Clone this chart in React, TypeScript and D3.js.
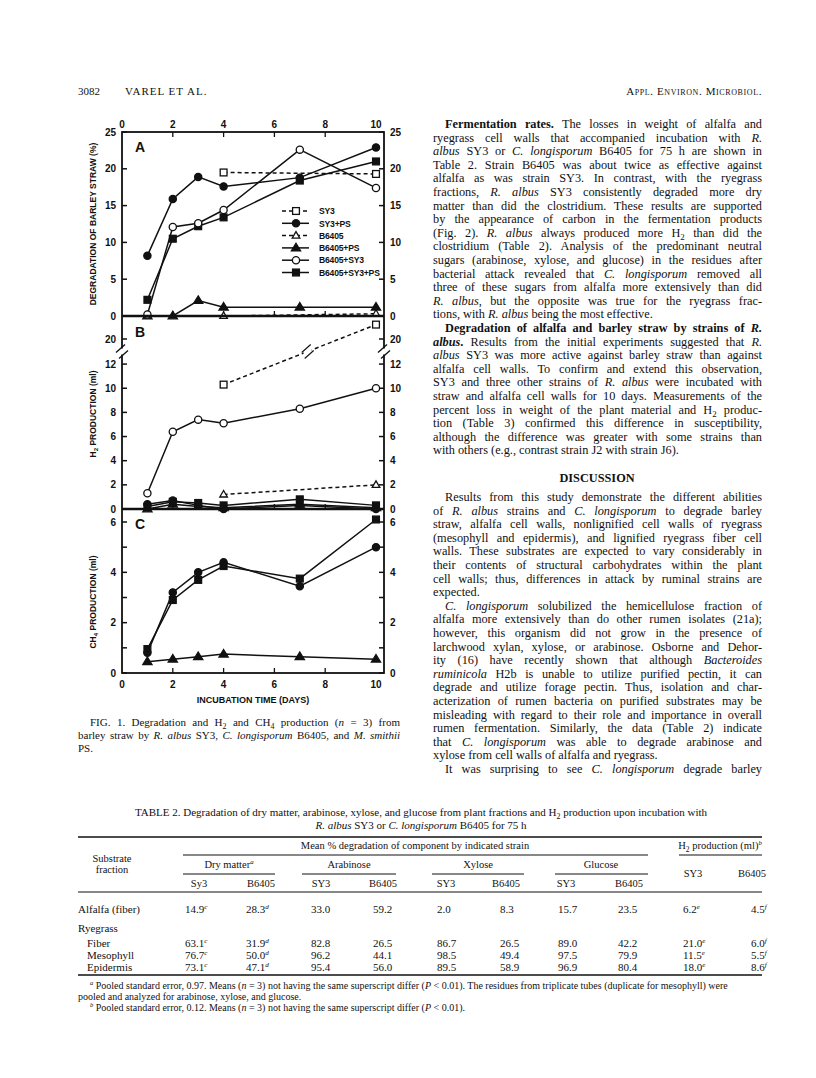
import React, { useEffect, useRef } from 'react';
import * as d3 from 'd3';

// ---- figure 1 data ----
const seriesNames = ['SY3', 'SY3+PS', 'B6405', 'B6405+PS', 'B6405+SY3', 'B6405+SY3+PS'];
const daysAll = [1, 2, 3, 4, 7, 10];
const daysLate = [4, 10];
const xTicks = [0, 2, 4, 6, 8, 10];

// A: degradation of barley straw (%)
const aSY3 = [19.5, 19.3];
const aSY3PS = [8.2, 15.9, 18.9, 17.6, 18.8, 22.9];
const aB6405 = [0, 0.3];
const aB6405PS = [0, 0, 2.1, 1.2, 1.2, 1.2];
const aB6405SY3 = [0.2, 12.1, 12.6, 14.4, 22.6, 17.4];
const aB6405SY3PS = [2.2, 10.5, 12.2, 13.4, 18.4, 21.0];

// B: H2 production (ml)
const bSY3 = [10.3, 21.2];
const bSY3PS = [0.4, 0.7, 0.3, 0.0, 0.3, 0.0];
const bB6405 = [1.2, 2.0];
const bB6405PS = [0.0, 0.4, 0.2, 0.1, 0.4, 0.1];
const bB6405SY3 = [1.3, 6.4, 7.4, 7.1, 8.3, 10.0];
const bB6405SY3PS = [0.2, 0.6, 0.5, 0.3, 0.8, 0.3];

// C: CH4 production (ml)
const cSY3PS = [0.8, 3.2, 4.0, 4.4, 3.45, 5.0];
const cB6405PS = [0.45, 0.55, 0.65, 0.75, 0.65, 0.55];
const cB6405SY3PS = [0.95, 2.9, 3.7, 4.25, 3.75, 6.1];

const aTicks = [0, 5, 10, 15, 20, 25];
const bTicks = [0, 2, 4, 6, 8, 10, 12, 20];
const cMinor = [0, 1, 2, 3, 4, 5, 6];
const cTicks = [0, 2, 4, 6];

// ---- table 2 data ----
const tableStrains = ['Sy3', 'B6405', 'SY3', 'B6405', 'SY3', 'B6405', 'SY3', 'B6405', 'SY3', 'B6405'];
const tableGroups = ['Dry matter^a', 'Arabinose', 'Xylose', 'Glucose'];
const rowAlfalfa = ['14.9^c', '28.3^d', '33.0', '59.2', '2.0', '8.3', '15.7', '23.5', '6.2^e', '4.5^f'];
const rowFiber = ['63.1^c', '31.9^d', '82.8', '26.5', '86.7', '26.5', '89.0', '42.2', '21.0^e', '6.0^f'];
const rowMesophyll = ['76.7^c', '50.0^d', '96.2', '44.1', '98.5', '49.4', '97.5', '79.9', '11.5^e', '5.5^f'];
const rowEpidermis = ['73.1^c', '47.1^d', '95.4', '56.0', '89.5', '58.9', '96.9', '80.4', '18.0^e', '8.6^f'];

const styleOf: Record<string, { dash: boolean; shape: string; filled: boolean }> = {
  'SY3': { dash: true, shape: 'square', filled: false },
  'SY3+PS': { dash: false, shape: 'circle', filled: true },
  'B6405': { dash: true, shape: 'triangle', filled: false },
  'B6405+PS': { dash: false, shape: 'triangle', filled: true },
  'B6405+SY3': { dash: false, shape: 'circle', filled: false },
  'B6405+SY3+PS': { dash: false, shape: 'square', filled: true },
};

const rightTop = [
  { t: '**Fermentation rates.** The losses in weight of alfalfa and', ind: true },
  { t: 'ryegrass cell walls that accompanied incubation with *R.*' },
  { t: '*albus* SY3 or *C. longisporum* B6405 for 75 h are shown in' },
  { t: 'Table 2. Strain B6405 was about twice as effective against' },
  { t: 'alfalfa as was strain SY3. In contrast, with the ryegrass' },
  { t: 'fractions, *R. albus* SY3 consistently degraded more dry' },
  { t: 'matter than did the clostridium. These results are supported' },
  { t: 'by the appearance of carbon in the fermentation products' },
  { t: '(Fig. 2). *R. albus* always produced more H_2 than did the' },
  { t: 'clostridium (Table 2). Analysis of the predominant neutral' },
  { t: 'sugars (arabinose, xylose, and glucose) in the residues after' },
  { t: 'bacterial attack revealed that *C. longisporum* removed all' },
  { t: 'three of these sugars from alfalfa more extensively than did' },
  { t: '*R. albus*, but the opposite was true for the ryegrass frac-' },
  { t: 'tions, with *R. albus* being the most effective.', last: true },
  { t: '**Degradation of alfalfa and barley straw by strains of** ~R.~', ind: true },
  { t: '~albus~**.** Results from the initial experiments suggested that *R.*' },
  { t: '*albus* SY3 was more active against barley straw than against' },
  { t: 'alfalfa cell walls. To confirm and extend this observation,' },
  { t: 'SY3 and three other strains of *R. albus* were incubated with' },
  { t: 'straw and alfalfa cell walls for 10 days. Measurements of the' },
  { t: 'percent loss in weight of the plant material and H_2 produc-' },
  { t: 'tion (Table 3) confirmed this difference in susceptibility,' },
  { t: 'although the difference was greater with some strains than' },
  { t: 'with others (e.g., contrast strain J2 with strain J6).', last: true },
];

const rightBottom = [
  { t: 'Results from this study demonstrate the different abilities', ind: true },
  { t: 'of *R. albus* strains and *C. longisporum* to degrade barley' },
  { t: 'straw, alfalfa cell walls, nonlignified cell walls of ryegrass' },
  { t: '(mesophyll and epidermis), and lignified ryegrass fiber cell' },
  { t: 'walls. These substrates are expected to vary considerably in' },
  { t: 'their contents of structural carbohydrates within the plant' },
  { t: 'cell walls; thus, differences in attack by ruminal strains are' },
  { t: 'expected.', last: true },
  { t: '*C. longisporum* solubilized the hemicellulose fraction of', ind: true },
  { t: 'alfalfa more extensively than do other rumen isolates (21a);' },
  { t: 'however, this organism did not grow in the presence of' },
  { t: 'larchwood xylan, xylose, or arabinose. Osborne and Dehor-' },
  { t: 'ity (16) have recently shown that although *Bacteroides*' },
  { t: '*ruminicola* H2b is unable to utilize purified pectin, it can' },
  { t: 'degrade and utilize forage pectin. Thus, isolation and char-' },
  { t: 'acterization of rumen bacteria on purified substrates may be' },
  { t: 'misleading with regard to their role and importance in overall' },
  { t: 'rumen fermentation. Similarly, the data (Table 2) indicate' },
  { t: 'that *C. longisporum* was able to degrade arabinose and' },
  { t: 'xylose from cell walls of alfalfa and ryegrass.', last: true },
  { t: 'It was surprising to see *C. longisporum* degrade barley', ind: true },
];

const captionLines = [
  { t: 'FIG. 1. Degradation and H_2 and CH_4 production (*n* = 3) from', ind: true },
  { t: 'barley straw by *R. albus* SY3, *C. longisporum* B6405, and *M. smithii*' },
  { t: 'PS.', last: true },
];

// small markup: **bold**, *italic*, ~bold italic~, _2 subscript, ^a superscript
function rich(s: string, size: number) {
  const parts = s.split(/(\*\*.+?\*\*|~.+?~|\*.+?\*|_\d|\^[a-z])/g).filter(p => p !== '');
  let back = 0; // px shift to undo after a sub/superscript
  return parts.map((p, i) => {
    const dy = back !== 0 ? back : undefined;
    back = 0;
    if (p.startsWith('_')) {
      const d = size * 0.25;
      back = -d;
      return <tspan key={i} dy={(dy || 0) + d} fontSize={size * 0.72}>{p.slice(1)}</tspan>;
    }
    if (p.startsWith('^')) {
      const d = -size * 0.38;
      back = -d;
      return <tspan key={i} dy={(dy || 0) + d} fontSize={size * 0.65} fontStyle="italic">{p.slice(1)}</tspan>;
    }
    if (p.startsWith('**')) return <tspan key={i} dy={dy} fontWeight="bold">{p.slice(2, -2)}</tspan>;
    if (p.startsWith('~')) return <tspan key={i} dy={dy} fontWeight="bold" fontStyle="italic">{p.slice(1, -1)}</tspan>;
    if (p.startsWith('*')) return <tspan key={i} dy={dy} fontStyle="italic">{p.slice(1, -1)}</tspan>;
    return <tspan key={i} dy={dy}>{p}</tspan>;
  });
}

const SERIF = '"Liberation Serif", "Times New Roman", serif';
const SANS = '"Liberation Sans", Arial, sans-serif';

// chart scales
const x = d3.scaleLinear().domain([0, 10]).range([122, 376]);
const XL = 122;
const XR = 384;
const yA = d3.scaleLinear().domain([0, 25]).range([316, 132]);
const yB = d3.scaleLinear().domain([0, 13, 19, 22]).range([509, 352, 351, 315]);
const yC = d3.scaleLinear().domain([0, 6]).range([673, 522]);
const breakY = 351.5;

function Marker({ shape, filled, cx, cy }: { shape: string; filled: boolean; cx: number; cy: number }) {
  const fill = filled ? '#111' : '#fff';
  const sw = 1.3;
  if (shape === 'circle') return <circle cx={cx} cy={cy} r={3.6} fill={fill} stroke="#111" strokeWidth={sw} />;
  if (shape === 'square') return <rect x={cx - 3.4} y={cy - 3.4} width={6.8} height={6.8} fill={fill} stroke="#111" strokeWidth={sw} />;
  const h = filled ? 7.5 : 6.5;
  const w = filled ? 4.6 : 3.8;
  return <path d={`M${cx},${cy - h * 0.62}L${cx + w},${cy + h * 0.38}L${cx - w},${cy + h * 0.38}Z`} fill={fill} stroke="#111" strokeWidth={sw} />;
}

type Series = { name: string; days: number[]; values: number[] };

function Panel({ series, y, breakAt }: { series: Series[]; y: d3.ScaleLinear<number, number>; breakAt?: number }) {
  const line = d3.line<[number, number]>().x(d => x(d[0])).y(d => y(d[1]));
  const breaks: JSX.Element[] = [];
  if (breakAt !== undefined) {
    series.forEach(s => {
      for (let i = 1; i < s.days.length; i++) {
        const y0 = y(s.values[i - 1]);
        const y1 = y(s.values[i]);
        if ((y0 - breakAt) * (y1 - breakAt) < 0) {
          const t = (y0 - breakAt) / (y0 - y1);
          const bx = x(s.days[i - 1]) + t * (x(s.days[i]) - x(s.days[i - 1]));
          breaks.push(
            <g key={s.name + i}>
              <rect x={bx - 4} y={breakAt - 3} width={8} height={6} fill="#fff" />
              <line x1={bx - 6} y1={breakAt + 1} x2={bx + 3} y2={breakAt - 7} stroke="#111" strokeWidth={1.2} />
              <line x1={bx - 3} y1={breakAt + 7} x2={bx + 6} y2={breakAt - 1} stroke="#111" strokeWidth={1.2} />
            </g>
          );
        }
      }
    });
  }
  return (
    <g>
      {series.map(s => (
        <path
          key={s.name}
          d={line(s.days.map((d, i) => [d, s.values[i]] as [number, number])) || ''}
          fill="none"
          stroke="#111"
          strokeWidth={1.5}
          strokeDasharray={styleOf[s.name].dash ? '4,3' : undefined}
        />
      ))}
      {breaks}
      {series.map(s =>
        s.days.map((d, i) => (
          <Marker key={s.name + d} shape={styleOf[s.name].shape} filled={styleOf[s.name].filled} cx={x(d)} cy={y(s.values[i])} />
        ))
      )}
    </g>
  );
}

function JustText({ lines, x0, width, y0, step, size, ind }: any) {
  return (
    <g>
      {lines.map((l: any, i: number) => {
        const xs = x0 + (l.ind ? ind : 0);
        return (
          <text
            key={i}
            x={xs}
            y={y0 + i * step}
            fontSize={size}
            data-w={l.last ? undefined : x0 + width - xs}
          >
            {rich(l.t, size)}
          </text>
        );
      })}
    </g>
  );
}

const App = () => {
  const svgRef = useRef<SVGSVGElement>(null);

  useEffect(() => {
    // 两端对齐：按单词间距补齐
    d3.select(svgRef.current)
      .selectAll<SVGTextElement, unknown>('text[data-w]')
      .each(function () {
        const target = +(this.getAttribute('data-w') || 0);
        const len = this.getComputedTextLength();
        const spaces = (this.textContent || '').split(' ').length - 1;
        if (spaces > 0) d3.select(this).attr('word-spacing', (target - len) / spaces);
      });
  }, []);

  const panelASeries: Series[] = [
    { name: 'B6405', days: daysLate, values: aB6405 },
    { name: 'B6405+PS', days: daysAll, values: aB6405PS },
    { name: 'SY3', days: daysLate, values: aSY3 },
    { name: 'B6405+SY3+PS', days: daysAll, values: aB6405SY3PS },
    { name: 'B6405+SY3', days: daysAll, values: aB6405SY3 },
    { name: 'SY3+PS', days: daysAll, values: aSY3PS },
  ];
  const panelBSeries: Series[] = [
    { name: 'B6405+PS', days: daysAll, values: bB6405PS },
    { name: 'SY3+PS', days: daysAll, values: bSY3PS },
    { name: 'B6405+SY3+PS', days: daysAll, values: bB6405SY3PS },
    { name: 'B6405', days: daysLate, values: bB6405 },
    { name: 'B6405+SY3', days: daysAll, values: bB6405SY3 },
    { name: 'SY3', days: daysLate, values: bSY3 },
  ];
  const panelCSeries: Series[] = [
    { name: 'B6405+PS', days: daysAll, values: cB6405PS },
    { name: 'B6405+SY3+PS', days: daysAll, values: cB6405SY3PS },
    { name: 'SY3+PS', days: daysAll, values: cSY3PS },
  ];

  const tick = 5;
  const yAxisMarks = (y: d3.ScaleLinear<number, number>, ticks: number[], labels: number[], key: string) => (
    <g key={key}>
      {ticks.map(t => (
        <g key={t}>
          <line x1={XL} x2={XL + tick} y1={y(t)} y2={y(t)} stroke="#111" strokeWidth={1.5} />
          <line x1={XR} x2={XR - tick} y1={y(t)} y2={y(t)} stroke="#111" strokeWidth={1.5} />
        </g>
      ))}
      {labels.map(t => (
        <g key={'l' + t} fontFamily={SANS} fontWeight="bold" fontSize={10}>
          <text x={XL - 6} y={y(t) + 3.6} textAnchor="end">{t}</text>
          <text x={XR + 6} y={y(t) + 3.6}>{t}</text>
        </g>
      ))}
    </g>
  );

  const axisBreak = (ax: number) => (
    <g key={'br' + ax}>
      <rect x={ax - 3} y={breakY - 3} width={6} height={6} fill="#fff" />
      <line x1={ax - 6} y1={breakY + 1} x2={ax + 3} y2={breakY - 7} stroke="#111" strokeWidth={1.3} />
      <line x1={ax - 3} y1={breakY + 7} x2={ax + 6} y2={breakY - 1} stroke="#111" strokeWidth={1.3} />
    </g>
  );

  const tableCols = [185, 246, 311, 373, 437, 500, 558, 618, 683, 751];
  const strainCenters = [199, 261, 321, 383, 446, 506, 566, 629, 693, 752];
  const groupCenters = [229, 349, 478, 601];
  const groupRules = [[183, 275], [302, 396], [432, 524], [555, 648]];
  const tableRows = [
    { label: 'Alfalfa (fiber)', vals: rowAlfalfa, y: 909, ind: 0 },
    { label: 'Fiber', vals: rowFiber, y: 943, ind: 9 },
    { label: 'Mesophyll', vals: rowMesophyll, y: 955, ind: 9 },
    { label: 'Epidermis', vals: rowEpidermis, y: 967, ind: 9 },
  ];

  return (
    <svg
      ref={svgRef}
      width={816}
      height={1078}
      style={{ position: 'absolute', left: 0, top: 0 }}
      fontFamily={SERIF}
      fill="#111"
    >
      <rect width={816} height={1078} fill="#fff" />

      {/* running heads */}
      <text x={78} y={95} fontSize={11}>3082</text>
      <text x={125} y={95} fontSize={11} letterSpacing={1}>VAREL ET AL.</text>
      <text x={762} y={95} fontSize={11} textAnchor="end" letterSpacing={0.6} style={{ fontVariant: 'small-caps' }}>
        Appl. Environ. Microbiol.
      </text>

      {/* ---------- Figure 1 ---------- */}
      <g>
        {xTicks.map(t => (
          <text key={'tx' + t} x={x(t)} y={128} textAnchor="middle" fontFamily={SANS} fontWeight="bold" fontSize={10}>{t}</text>
        ))}
        {xTicks.map(t => (
          <text key={'bx' + t} x={x(t)} y={688} textAnchor="middle" fontFamily={SANS} fontWeight="bold" fontSize={10}>{t}</text>
        ))}
        {xTicks.slice(1, 5).map(t => (
          <g key={'xt' + t} stroke="#111" strokeWidth={1.3}>
            <line x1={x(t)} x2={x(t)} y1={132} y2={132 + tick} />
            <line x1={x(t)} x2={x(t)} y1={316} y2={316 - tick} />
            <line x1={x(t)} x2={x(t)} y1={509} y2={509 - tick} />
            <line x1={x(t)} x2={x(t)} y1={673} y2={673 - tick} />
          </g>
        ))}

        {yAxisMarks(yA, aTicks, aTicks, 'a')}
        {yAxisMarks(yB, bTicks, bTicks, 'b')}
        {yAxisMarks(yC, cMinor, cTicks, 'c')}

        <Panel series={panelASeries} y={yA} />
        <Panel series={panelBSeries} y={yB} breakAt={breakY} />
        <Panel series={panelCSeries} y={yC} />

        {/* frame and panel dividers */}
        <rect x={XL} y={132} width={XR - XL} height={673 - 132} fill="none" stroke="#111" strokeWidth={1.8} />
        <line x1={XL} x2={XR} y1={316} y2={316} stroke="#111" strokeWidth={2.6} />
        <line x1={XL} x2={XR} y1={509} y2={509} stroke="#111" strokeWidth={2.6} />
        {axisBreak(XL)}
        {axisBreak(XR)}

        <g fontFamily={SANS} fontWeight="bold" fontSize={14}>
          <text x={140} y={152} textAnchor="middle">A</text>
          <text x={140} y={337} textAnchor="middle">B</text>
          <text x={140} y={529} textAnchor="middle">C</text>
        </g>

        {/* legend */}
        <g fontFamily={SANS} fontWeight="bold" fontSize={8.6} letterSpacing={-0.2}>
          {seriesNames.map((n, i) => {
            const ly = 211 + i * 12.3;
            const st = styleOf[n];
            return (
              <g key={n}>
                <line x1={282} x2={309} y1={ly} y2={ly} stroke="#111" strokeWidth={1.5} strokeDasharray={st.dash ? '4,3' : undefined} />
                <Marker shape={st.shape} filled={st.filled} cx={296} cy={ly} />
                <text x={319} y={ly + 3.2}>{n}</text>
              </g>
            );
          })}
        </g>

        {/* axis titles */}
        <g fontFamily={SANS} fontWeight="bold" fontSize={8.5}>
          <text transform="translate(96,224) rotate(-90)" textAnchor="middle">DEGRADATION OF BARLEY STRAW (%)</text>
          <text transform="translate(96,414) rotate(-90)" textAnchor="middle">{rich('H_2 PRODUCTION (ml)', 8.5)}</text>
          <text transform="translate(96,602) rotate(-90)" textAnchor="middle">{rich('CH_4  PRODUCTION (ml)', 8.5)}</text>
          <text x={253} y={703} textAnchor="middle" fontSize={9}>INCUBATION TIME (DAYS)</text>
        </g>
      </g>

      {/* caption */}
      <JustText lines={captionLines} x0={78} width={322} y0={726} step={13.2} size={11} ind={12} />

      {/* right column */}
      <JustText lines={rightTop} x0={433} width={329} y0={128} step={13.6} size={12.3} ind={12} />
      <text x={597} y={482} fontSize={12.3} fontWeight="bold" textAnchor="middle">DISCUSSION</text>
      <JustText lines={rightBottom} x0={433} width={329} y0={501} step={13.6} size={12.3} ind={12} />

      {/* ---------- Table 2 ---------- */}
      <g fontSize={11}>
        <text x={421} y={816} textAnchor="middle">
          {rich('TABLE 2. Degradation of dry matter, arabinose, xylose, and glucose from plant fractions and H_2 production upon incubation with', 11)}
        </text>
        <text x={421} y={829} textAnchor="middle">{rich('*R. albus* SY3 or *C. longisporum* B6405 for 75 h', 11)}</text>

        <line x1={78} x2={762} y1={837} y2={837} stroke="#111" strokeWidth={1.4} />
        <text x={415} y={849} textAnchor="middle" fontSize={10.5}>Mean % degradation of component by indicated strain</text>
        <text x={720} y={849} textAnchor="middle" fontSize={10.5}>{rich('H_2 production (ml)^b', 10.5)}</text>
        <line x1={183} x2={648} y1={855} y2={855} stroke="#111" strokeWidth={1} />
        <line x1={679} x2={762} y1={855} y2={855} stroke="#111" strokeWidth={1} />

        <text x={112} y={862} textAnchor="middle" fontSize={10.5}>Substrate</text>
        <text x={112} y={873} textAnchor="middle" fontSize={10.5}>fraction</text>

        {tableGroups.map((g, i) => (
          <text key={g} x={groupCenters[i]} y={868} textAnchor="middle" fontSize={10.5}>{rich(g, 10.5)}</text>
        ))}
        {groupRules.map((r, i) => (
          <line key={i} x1={r[0]} x2={r[1]} y1={874} y2={874} stroke="#111" strokeWidth={1} />
        ))}
        {tableStrains.map((s, i) => (
          <text key={i} x={strainCenters[i]} y={i < 8 ? 887 : 877} textAnchor="middle" fontSize={10.5}>{s}</text>
        ))}
        <line x1={78} x2={762} y1={892} y2={892} stroke="#111" strokeWidth={1} />

        {tableRows.map(r => (
          <g key={r.label}>
            <text x={78 + r.ind} y={r.y + 4}>{r.label}</text>
            {r.vals.map((v, i) => (
              <text key={i} x={tableCols[i]} y={r.y + 4}>{rich(v, 11)}</text>
            ))}
          </g>
        ))}
        <text x={78} y={932}>Ryegrass</text>
        <line x1={78} x2={762} y1={975} y2={975} stroke="#111" strokeWidth={1.4} />

        <g fontSize={10}>
          <text x={90} y={989}>{rich('^a Pooled standard error, 0.97. Means (*n* = 3) not having the same superscript differ (*P* < 0.01). The residues from triplicate tubes (duplicate for mesophyll) were', 10)}</text>
          <text x={78} y={1000}>pooled and analyzed for arabinose, xylose, and glucose.</text>
          <text x={90} y={1011}>{rich('^b Pooled standard error, 0.12. Means (*n* = 3) not having the same superscript differ (*P* < 0.01).', 10)}</text>
        </g>
      </g>
    </svg>
  );
};

export default App;
